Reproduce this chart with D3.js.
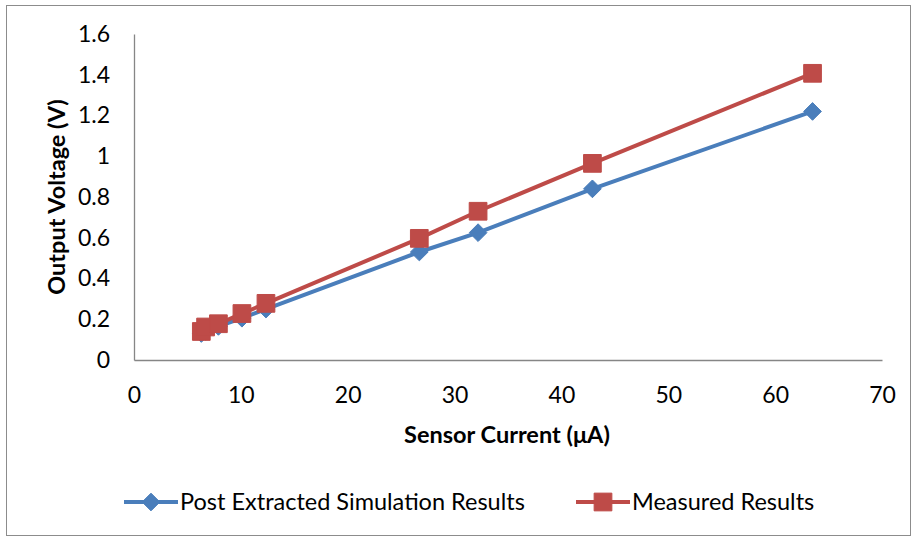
<!DOCTYPE html>
<html>
<head>
<meta charset="utf-8">
<script src="https://cdn.jsdelivr.net/npm/d3@7"></script>
<style>
  html, body { margin: 0; padding: 0; background: #fff; }
  svg { display: block; }
  text { font-family: Lato, "Open Sans", sans-serif; fill: #000; }
</style>
</head>
<body>
<svg id="chart" width="915" height="540"></svg>
<script>
// Sensor current (µA) for each measurement point
const sensorCurrent = [6.3, 6.7, 7.9, 10.1, 12.35, 26.7, 32.2, 42.9, 63.5];
// Output voltage (V) from post-layout simulation
const simulated = [0.13, 0.14, 0.165, 0.205, 0.25, 0.53, 0.625, 0.84, 1.22];
// Output voltage (V) measured on silicon
const measured = [0.14, 0.162, 0.178, 0.228, 0.278, 0.597, 0.73, 0.965, 1.407];

const seriesNames = ["Post Extracted Simulation Results", "Measured Results"];
const xTicks = [0, 10, 20, 30, 40, 50, 60, 70];
const yTicks = [0, 0.2, 0.4, 0.6, 0.8, 1, 1.2, 1.4, 1.6];

const colors = ["#4A7EBB", "#BE4B48"];

const svg = d3.select("#chart");

// outer frame
svg.append("rect")
  .attr("x", 6.5).attr("y", 5.5)
  .attr("width", 904).attr("height", 530)
  .attr("fill", "none").attr("stroke", "#8c8c8c").attr("stroke-width", 1);

const plot = { left: 134, right: 882, top: 34, bottom: 360 };

const x = d3.scaleLinear().domain([0, 70]).range([plot.left, plot.right]);
const y = d3.scaleLinear().domain([0, 1.6]).range([plot.bottom, plot.top]);

// axes
const xAxis = svg.append("g")
  .attr("transform", `translate(0,${plot.bottom})`)
  .call(d3.axisBottom(x).tickValues(xTicks).tickSize(0).tickPadding(35).tickFormat(d3.format("d")));
const yAxis = svg.append("g")
  .attr("transform", `translate(${plot.left},0)`)
  .call(d3.axisLeft(y).tickValues(yTicks).tickSize(0).tickPadding(24).tickFormat(d => String(+d.toFixed(1))));

[xAxis, yAxis].forEach(g => {
  g.select(".domain").attr("stroke", "#868686").attr("stroke-width", 1.3);
  g.selectAll("text").attr("font-size", 23).attr("font-family", "Lato, sans-serif").attr("fill", "#000");
});
xAxis.selectAll("text").attr("dy", "0.35em");

// axis titles
svg.append("text")
  .attr("x", (plot.left + plot.right) / 2 - 1).attr("y", 443)
  .attr("text-anchor", "middle").attr("font-weight", "bold").attr("font-size", 23.5)
  .text("Sensor Current (μA)");
svg.append("text")
  .attr("transform", "translate(65,197) rotate(-90)")
  .attr("text-anchor", "middle").attr("font-weight", "bold").attr("font-size", 23.5)
  .text("Output Voltage (V)");

const line = d3.line().x(d => x(d[0])).y(d => y(d[1]));
const diamond = d3.symbol().type(d3.symbolDiamond2).size(200);
const square = d3.symbol().type(d3.symbolSquare2).size(400);

const series = [
  { name: seriesNames[0], values: d3.zip(sensorCurrent, simulated), color: colors[0], marker: diamond },
  { name: seriesNames[1], values: d3.zip(sensorCurrent, measured), color: colors[1], marker: square }
];

series.forEach(s => {
  const g = svg.append("g");
  g.append("path")
    .attr("d", line(s.values))
    .attr("fill", "none").attr("stroke", s.color).attr("stroke-width", 4);
  g.selectAll("path.mk").data(s.values).join("path")
    .attr("class", "mk")
    .attr("transform", d => `translate(${x(d[0])},${y(d[1])})`)
    .attr("d", s.marker)
    .attr("fill", s.color).attr("stroke", s.color).attr("stroke-width", 1);
});

// legend
const legendItems = [
  { x0: 124, textX: 180, s: series[0] },
  { x0: 576, textX: 632, s: series[1] }
];
const ly = 502;
legendItems.forEach(it => {
  const g = svg.append("g");
  g.append("line")
    .attr("x1", it.x0).attr("x2", it.x0 + 54).attr("y1", ly).attr("y2", ly)
    .attr("stroke", it.s.color).attr("stroke-width", 4);
  g.append("path")
    .attr("transform", `translate(${it.x0 + 27},${ly})`)
    .attr("d", it.s.marker)
    .attr("fill", it.s.color).attr("stroke", it.s.color);
  g.append("text")
    .attr("x", it.textX).attr("y", ly).attr("dy", "0.35em")
    .attr("font-size", 23.5)
    .text(it.s.name);
});
</script>
</body>
</html>
